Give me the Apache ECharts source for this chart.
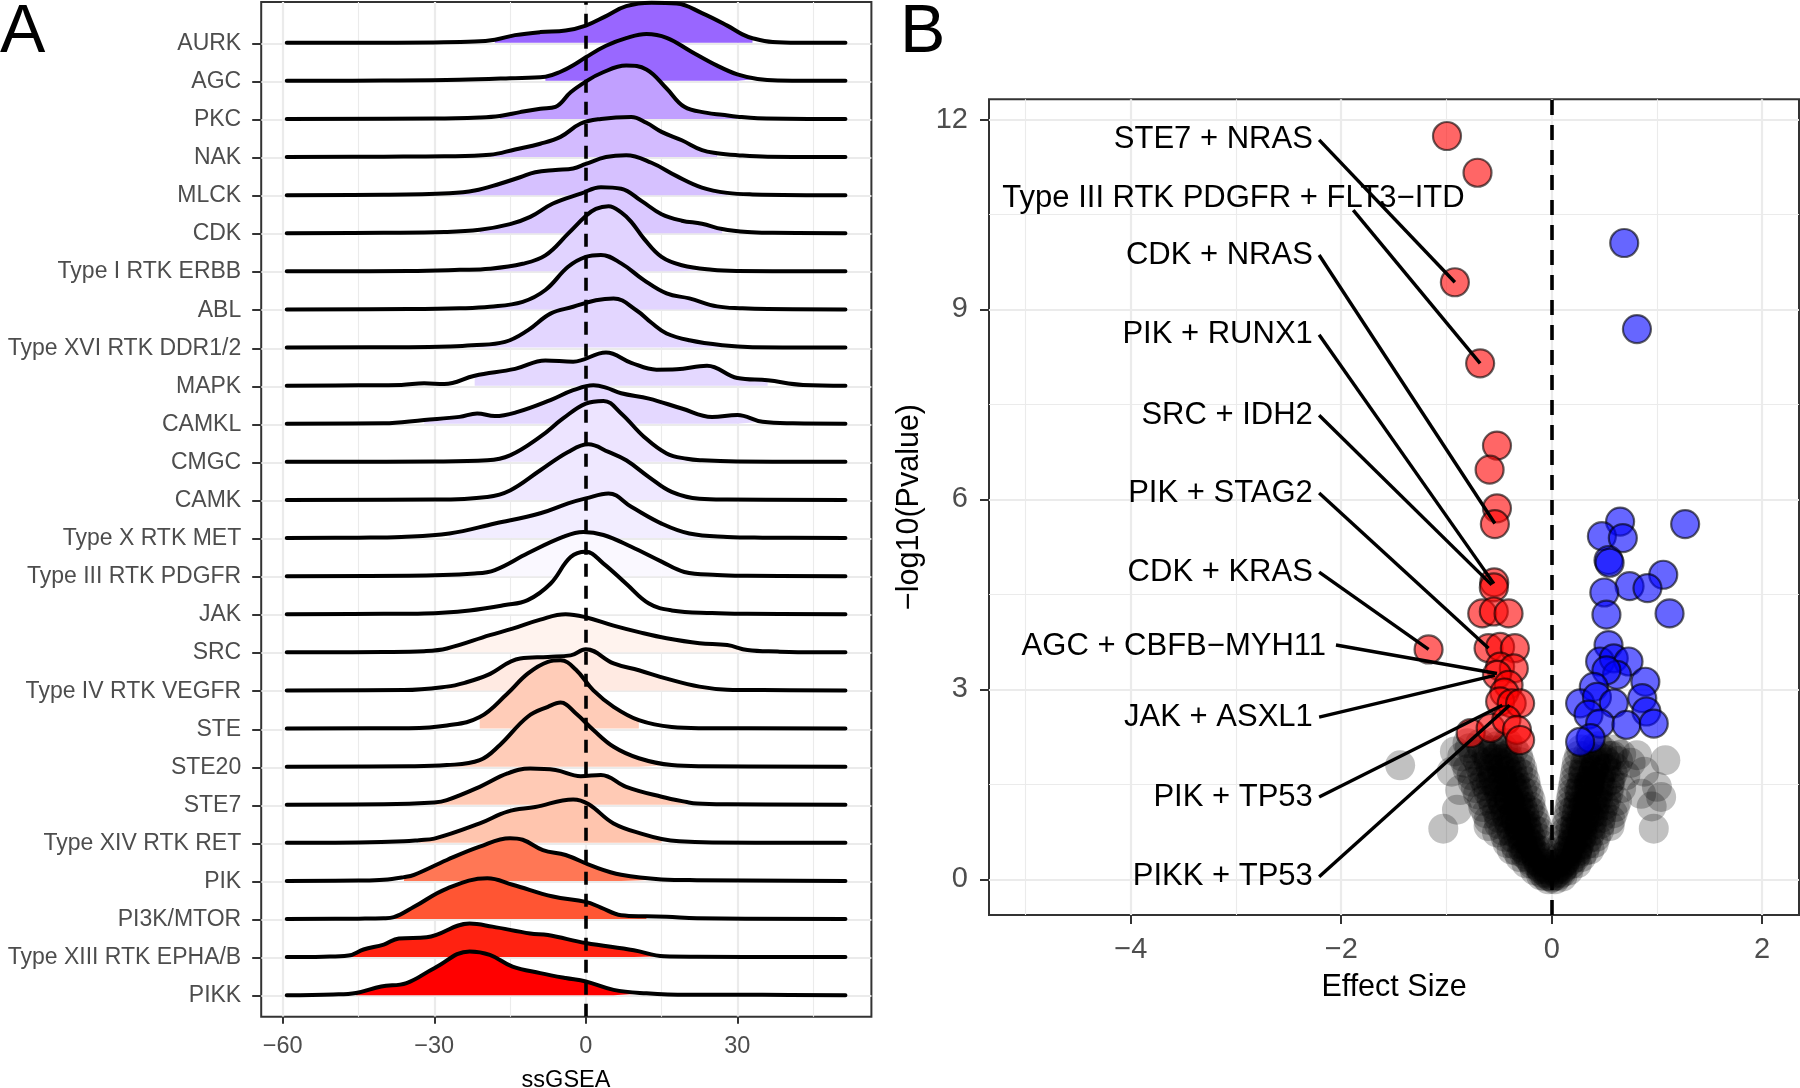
<!DOCTYPE html>
<html><head><meta charset="utf-8">
<script src="https://cdn.jsdelivr.net/npm/echarts@6/dist/echarts.min.js"></script>
<style>html,body{margin:0;padding:0;background:#fff}#c{width:1800px;height:1088px}</style>
</head><body><div id="c"></div>
<script>
// ---------------- Panel A data ----------------
const categories = ['AURK','AGC','PKC','NAK','MLCK','CDK','Type I RTK ERBB','ABL','Type XVI RTK DDR1/2','MAPK','CAMKL','CMGC','CAMK','Type X RTK MET','Type III RTK PDGFR','JAK','SRC','Type IV RTK VEGFR','STE','STE20','STE7','Type XIV RTK RET','PIK','PI3K/MTOR','Type XIII RTK EPHA/B','PIKK'];

// ridge curves: [ssGSEA, height in row units]
const ridgeAURK = [[-59.2,0],[-45,0],[-30,0.01],[-22,0.03],[-18,0.08],[-14,0.2],[-9,0.28],[-4,0.32],[0,0.45],[4,0.7],[8,0.96],[13,1.05],[18,1.03],[23,0.78],[28,0.45],[31,0.22],[33,0.12],[37,0.02],[42,0],[51.4,0]];
const ridgeAGC = [[-59.2,0],[-40,0.01],[-25,0.03],[-15,0.07],[-8,0.11],[-5,0.24],[-2,0.45],[0,0.62],[4,0.92],[8,1.12],[12,1.23],[16,1.13],[21,0.76],[26,0.4],[30,0.17],[34,0.05],[38,0.01],[51.4,0]];
const ridgePKC = [[-59.2,0],[-30,0.01],[-21,0.04],[-17,0.08],[-13,0.18],[-9,0.27],[-6,0.32],[-3,0.7],[0,0.98],[3,1.2],[8,1.4],[12,1.3],[16,0.8],[19.5,0.32],[24,0.16],[27,0.11],[30,0.06],[34,0.02],[51.4,0]];
const ridgeNAK = [[-59.2,0],[-40,0.01],[-28,0.02],[-19,0.06],[-14,0.2],[-9,0.35],[-5,0.53],[-1,0.88],[3,1.0],[9,1.05],[12,0.9],[15,0.66],[19,0.44],[23,0.18],[26,0.1],[30,0.05],[36,0.01],[51.4,0]];
const ridgeMLCK = [[-59.2,0],[-40,0.01],[-27,0.05],[-22,0.12],[-17,0.3],[-13,0.47],[-10,0.6],[-6,0.66],[-2.5,0.7],[0,0.82],[4,1.0],[8,1.05],[13,0.85],[18,0.5],[23,0.2],[28,0.06],[33,0.02],[51.4,0]];
const ridgeCDK = [[-59.2,0],[-40,0.01],[-28,0.03],[-21,0.09],[-15,0.24],[-11,0.43],[-6.5,0.78],[-1,1.04],[3,1.21],[7,1.17],[11,0.85],[15,0.5],[19,0.33],[23,0.25],[27,0.11],[32,0.03],[37,0.01],[51.4,0]];
const ridgeERBB = [[-59.2,0],[-35,0.01],[-25,0.04],[-19,0.07],[-12.5,0.2],[-8,0.42],[-3.5,0.99],[0,1.45],[2,1.64],[4.5,1.71],[7,1.55],[9,1.3],[11.5,0.86],[15,0.38],[19,0.16],[25,0.04],[30,0.01],[51.4,0]];
const ridgeABL = [[-59.2,0],[-35,0.01],[-25,0.03],[-19,0.07],[-12.5,0.2],[-8,0.51],[-3.5,1.12],[0,1.38],[3,1.43],[7,1.21],[11.5,0.77],[16,0.42],[20.5,0.29],[26,0.08],[31,0.03],[36,0.01],[51.4,0]];
const ridgeDDR = [[-59.2,0],[-35,0.01],[-27,0.03],[-22.5,0.06],[-16,0.15],[-11.5,0.45],[-7,0.89],[-2.5,1.07],[2,1.24],[5.5,1.29],[10,0.98],[13,0.65],[16,0.37],[20.5,0.19],[27,0.06],[33,0.01],[51.4,0]];
const ridgeMAPK = [[-59.2,0],[-45,0.01],[-36.5,0.02],[-32,0.06],[-28,0.04],[-22,0.26],[-14,0.44],[-8,0.66],[-2.5,0.63],[4,0.87],[9,0.6],[14,0.42],[18,0.43],[24,0.52],[30,0.2],[36,0.14],[43,0.02],[51.4,0]];
const ridgeCAMKL = [[-59.2,0],[-40,0.01],[-32,0.1],[-25,0.18],[-21.5,0.27],[-18,0.2],[-13.5,0.31],[-7,0.62],[-2.5,0.88],[1.5,1.01],[4,0.95],[7,0.8],[12.5,0.66],[19,0.4],[25,0.18],[30,0.23],[35,0.05],[41,0.01],[51.4,0]];
const ridgeCMGC = [[-59.2,0],[-30,0.01],[-19.5,0.04],[-15,0.17],[-9,0.66],[-4.5,1.14],[0,1.53],[3.5,1.6],[7,1.27],[11.5,0.66],[16,0.22],[20,0.08],[23,0.04],[30,0.01],[51.4,0]];
const ridgeCAMK = [[-59.2,0],[-30,0.01],[-19.5,0.08],[-15,0.25],[-9,0.78],[-3.5,1.26],[0.5,1.46],[4.5,1.26],[8,1.04],[12.5,0.6],[17,0.21],[22.5,0.03],[28,0.01],[51.4,0]];
const ridgeMET = [[-59.2,0],[-45,0.01],[-36.5,0.03],[-27,0.12],[-18,0.38],[-9,0.65],[-3.5,0.91],[0,1.04],[4.5,1.17],[9,0.82],[15,0.38],[20.5,0.12],[28,0.03],[35,0.01],[51.4,0]];
const ridgePDGFR = [[-59.2,0],[-35,0.01],[-22,0.07],[-18,0.16],[-11.5,0.6],[-4.5,1.03],[-0.5,1.16],[3.5,1.08],[9,0.77],[15,0.38],[19.5,0.11],[26,0.03],[32,0.01],[51.4,0]];
const ridgeJAK = [[-59.2,0],[-40,0.01],[-32,0.02],[-23,0.1],[-16,0.24],[-11.5,0.37],[-7,0.8],[-3,1.5],[0,1.64],[3.5,1.33],[8,0.8],[12.5,0.28],[17,0.1],[25,0.03],[32,0.01],[51.4,0]];
const ridgeSRC = [[-59.2,0],[-40,0.01],[-32,0.03],[-27.5,0.1],[-19,0.45],[-14.5,0.62],[-9,0.86],[-4,1.0],[0,0.92],[5.5,0.7],[10.5,0.53],[16,0.37],[22.5,0.24],[28,0.19],[32,0.06],[38,0.02],[45,0],[51.4,0]];
const ridgeVEGFR = [[-59.2,0],[-36,0.01],[-27.5,0.1],[-24,0.2],[-19.5,0.4],[-13,0.84],[-7.5,0.88],[-3,0.92],[0,1.08],[5.5,0.71],[10.5,0.53],[16,0.31],[22.5,0.1],[28,0.02],[35,0.01],[51.4,0]];
const ridgeSTE = [[-59.2,0],[-35,0.01],[-27.5,0.08],[-21,0.3],[-15.5,0.92],[-11.5,1.44],[-7.5,1.75],[-5,1.79],[-2,1.55],[1.5,1.0],[5.5,0.57],[10.5,0.22],[17,0.04],[23,0.01],[51.4,0]];
const ridgeSTE20 = [[-59.2,0],[-35,0.01],[-27.5,0.04],[-21,0.17],[-17,0.57],[-11.5,1.31],[-7.5,1.57],[-5,1.68],[-2,1.4],[1.5,0.96],[5.5,0.52],[10.5,0.22],[17,0.04],[23,0.01],[51.4,0]];
const ridgeSTE7 = [[-59.2,0],[-40,0.01],[-30,0.06],[-27.5,0.12],[-21,0.47],[-15.5,0.82],[-11,0.95],[-6,0.91],[-1,0.75],[3,0.78],[8,0.47],[15,0.21],[20,0.07],[22,0.03],[28,0.01],[51.4,0]];
const ridgeRET = [[-59.2,0],[-45,0.01],[-36,0.04],[-33,0.07],[-30,0.11],[-21,0.51],[-15.5,0.82],[-10,0.94],[-2.5,1.14],[0.5,1.02],[5.5,0.51],[12,0.2],[15,0.1],[18.5,0.04],[25,0.01],[51.4,0]];
const ridgePIK = [[-59.2,0],[-45,0.01],[-40,0.03],[-36,0.1],[-34,0.16],[-27.5,0.55],[-21,0.9],[-15,1.12],[-12.5,1.08],[-8.5,0.81],[-4,0.68],[1.5,0.38],[7,0.16],[15,0.04],[22,0.02],[51.4,0]];
const ridgePI3K = [[-59.2,0],[-45,0.01],[-40,0.02],[-38,0.05],[-34,0.32],[-27.5,0.8],[-19.5,1.07],[-14.5,0.9],[-6.5,0.59],[0,0.45],[3,0.3],[7,0.1],[12,0.07],[16,0.06],[22,0.02],[51.4,0]];
const ridgeEPHA = [[-59.2,0],[-52,0.01],[-47,0.04],[-44,0.2],[-40,0.33],[-37,0.49],[-31.5,0.52],[-23,0.88],[-18.5,0.8],[-11,0.62],[-7.5,0.58],[0,0.37],[9.5,0.18],[15.5,0.02],[22,0.01],[51.4,0]];
const ridgePIKK = [[-59.2,0],[-50,0.02],[-45.5,0.06],[-40.5,0.23],[-35.5,0.32],[-30,0.71],[-23,1.15],[-19,1.06],[-14.5,0.75],[-9,0.58],[-4,0.45],[0,0.36],[5.5,0.14],[12,0.05],[20,0.01],[35,0.01],[51.4,0]];

const ridges = [ridgeAURK,ridgeAGC,ridgePKC,ridgeNAK,ridgeMLCK,ridgeCDK,ridgeERBB,ridgeABL,ridgeDDR,ridgeMAPK,ridgeCAMKL,ridgeCMGC,ridgeCAMK,ridgeMET,ridgePDGFR,ridgeJAK,ridgeSRC,ridgeVEGFR,ridgeSTE,ridgeSTE20,ridgeSTE7,ridgeRET,ridgePIK,ridgePI3K,ridgeEPHA,ridgePIKK];
const fillRanges = [[-18,33],[-8,34],[-17,30],[-19,26],[-27,28],[-21,27],[-19,25],[-19,31],[-22.5,27],[-22,36],[-32,35],[-19.5,23],[-19.5,22.5],[-27,28],[-22,26],[-32,25],[-27.5,32],[-27.5,28],[-21,10.5],[-27.5,17],[-30,20],[-33,15],[-36,15],[-38,12],[-47,15.5],[-45.5,12]];
const fillColors = ['#9966FF','#9968FF','#C1A0FF','#D3BBFF','#D6C1FF','#DAC8FF','#E1D3FF','#E2D5FF','#E3D6FF','#E4D8FF','#E4D8FF','#EDE4FF','#EFE8FF','#F2EDFF','#FAF8FF','#FFFFFF','#FFF3EE','#FFEAE2','#FFCCB8','#FFCCB8','#FFCAB5','#FFC5AE','#FF7755','#FF5533','#FF2211','#FF0000'];
const xTicksA = [-60,-30,0,30];
const xMinorA = [-45,-15,15,45];

// ---------------- Panel B data ----------------
const grayPoints = [
[-0.02,0.05],[-0.06,0.05],[-0.1,0.06],[0.0,0.03],
[-0.04,0.15],[-0.1,0.16],[-0.16,0.14],
[-0.06,0.25],[-0.12,0.26],[-0.18,0.24],[-0.24,0.25],
[-0.08,0.35],[-0.15,0.36],[-0.22,0.34],[-0.3,0.35],
[-0.1,0.45],[-0.18,0.46],[-0.25,0.44],[-0.33,0.45],[-0.38,0.47],
[-0.1,0.55],[-0.2,0.56],[-0.27,0.54],[-0.35,0.55],[-0.42,0.57],
[-0.12,0.65],[-0.2,0.66],[-0.28,0.64],[-0.36,0.65],[-0.44,0.67],
[-0.12,0.75],[-0.22,0.76],[-0.3,0.74],[-0.38,0.75],[-0.46,0.77],[-0.52,0.74],
[-0.14,0.85],[-0.24,0.86],[-0.32,0.84],[-0.4,0.85],[-0.5,0.87],[-0.6,0.84],
[-0.16,0.95],[-0.25,0.96],[-0.34,0.94],[-0.42,0.95],[-0.5,0.97],[-0.6,0.94],
[-0.18,1.05],[-0.26,1.06],[-0.35,1.04],[-0.44,1.05],[-0.52,1.07],[-0.62,1.04],
[-0.2,1.15],[-0.28,1.16],[-0.37,1.14],[-0.46,1.15],[-0.55,1.17],[-0.65,1.14],
[-0.2,1.25],[-0.3,1.26],[-0.4,1.24],[-0.48,1.25],[-0.57,1.27],[-0.66,1.24],
[-0.22,1.35],[-0.32,1.36],[-0.42,1.34],[-0.5,1.35],[-0.6,1.37],[-0.7,1.34],
[-0.24,1.45],[-0.34,1.46],[-0.44,1.44],[-0.52,1.45],[-0.62,1.47],[-0.72,1.44],
[-0.25,1.55],[-0.35,1.56],[-0.46,1.54],[-0.55,1.55],[-0.64,1.57],[-0.75,1.54],
[-0.27,1.65],[-0.37,1.66],[-0.47,1.64],[-0.56,1.65],[-0.66,1.67],[-0.76,1.64],
[-0.28,1.75],[-0.38,1.76],[-0.48,1.74],[-0.58,1.75],[-0.68,1.77],[-0.8,1.74],
[-0.3,1.85],[-0.4,1.86],[-0.5,1.84],[-0.6,1.85],[-0.7,1.87],[-0.82,1.84],
[-0.32,1.95],[-0.42,1.96],[-0.52,1.94],[-0.62,1.95],[-0.74,1.97],[-0.85,1.94],
[-0.36,2.05],[-0.46,2.06],[-0.56,2.04],[-0.66,2.05],[-0.78,2.07],
[-0.42,2.15],[-0.55,2.16],[-0.68,2.14],[-0.8,2.15],
[-1.44,1.8],[-1.03,0.8],[-0.92,2.02],[-0.87,1.41],[-0.95,1.7],[-0.9,1.1],
[0.02,0.05],[0.06,0.06],[0.1,0.04],
[0.04,0.15],[0.1,0.16],[0.16,0.14],
[0.06,0.25],[0.12,0.26],[0.18,0.24],[0.24,0.25],
[0.08,0.35],[0.15,0.36],[0.22,0.34],[0.28,0.35],
[0.1,0.45],[0.17,0.46],[0.24,0.44],[0.31,0.45],[0.36,0.47],
[0.1,0.55],[0.18,0.56],[0.26,0.54],[0.33,0.55],[0.4,0.57],
[0.12,0.65],[0.2,0.66],[0.28,0.64],[0.35,0.65],[0.42,0.67],
[0.13,0.75],[0.21,0.76],[0.29,0.74],[0.37,0.75],[0.45,0.77],
[0.14,0.85],[0.22,0.86],[0.3,0.84],[0.38,0.85],[0.46,0.87],[0.55,0.84],
[0.15,0.95],[0.23,0.96],[0.31,0.94],[0.39,0.95],[0.47,0.97],[0.56,0.94],
[0.16,1.05],[0.24,1.06],[0.32,1.04],[0.4,1.05],[0.48,1.07],[0.58,1.04],
[0.17,1.15],[0.25,1.16],[0.33,1.14],[0.41,1.15],[0.5,1.17],[0.6,1.14],
[0.18,1.25],[0.26,1.26],[0.34,1.24],[0.42,1.25],[0.52,1.27],[0.62,1.24],
[0.19,1.35],[0.27,1.36],[0.35,1.34],[0.44,1.35],[0.54,1.37],
[0.2,1.45],[0.28,1.46],[0.36,1.44],[0.45,1.45],[0.55,1.47],[0.66,1.44],
[0.21,1.55],[0.29,1.56],[0.37,1.54],[0.46,1.55],[0.56,1.57],
[0.22,1.65],[0.3,1.66],[0.38,1.64],[0.47,1.65],[0.58,1.67],[0.7,1.64],
[0.23,1.75],[0.31,1.76],[0.4,1.74],[0.5,1.75],[0.6,1.77],
[0.24,1.85],[0.32,1.86],[0.42,1.84],[0.52,1.85],[0.63,1.87],[0.75,1.84],
[0.26,1.95],[0.34,1.96],[0.44,1.94],[0.55,1.95],[0.66,1.97],
[0.28,2.05],[0.38,2.06],[0.48,2.04],[0.6,2.05],
[1.08,1.88],[0.81,1.96],[1.0,1.46],[0.95,1.15],[0.97,0.8],[1.04,1.3],[0.88,1.7],[0.85,1.35]
];
const grayCore = [
[-0.05,0.1],[-0.12,0.2],[-0.2,0.3],[-0.15,0.4],[-0.28,0.5],[-0.22,0.6],[-0.32,0.7],[-0.18,0.8],[-0.28,0.9],[-0.38,1.0],[-0.22,1.1],[-0.32,1.2],[-0.42,1.3],[-0.28,1.4],[-0.38,1.5],[-0.48,1.6],[-0.32,1.7],[-0.44,1.8],[-0.54,1.9],[-0.36,1.0],[-0.46,1.2],
[-0.08,0.2],[-0.16,0.5],[-0.24,0.8],[-0.3,1.1],[-0.36,1.4],[-0.42,1.7],[-0.26,0.4],[-0.34,0.9],[-0.4,1.25],[-0.5,1.45],[-0.55,1.75],[-0.58,1.55],[-0.6,1.95],
[-0.03,0.0],[-0.09,0.1],[-0.14,0.3],[-0.2,0.45],[-0.25,0.65],[-0.3,0.85],[-0.34,1.15],[-0.4,1.55],[-0.46,1.9],[-0.52,2.1],
[0.05,0.1],[0.12,0.2],[0.18,0.3],[0.14,0.4],[0.25,0.5],[0.2,0.6],[0.3,0.7],[0.18,0.8],[0.27,0.9],[0.36,1.0],[0.21,1.1],[0.3,1.2],[0.4,1.3],[0.26,1.4],[0.35,1.5],[0.45,1.6],[0.3,1.7],[0.42,1.8],[0.5,1.9],[0.34,1.05],[0.44,1.25],
[0.08,0.2],[0.16,0.5],[0.23,0.8],[0.29,1.1],[0.33,1.4],[0.4,1.7],[0.24,0.4],[0.32,0.9],[0.38,1.25],[0.48,1.45],[0.52,1.75],[0.55,1.55],[0.58,1.95],
[0.03,0.0],[0.09,0.1],[0.13,0.3],[0.19,0.45],[0.24,0.65],[0.28,0.85],[0.31,1.15],[0.36,1.55],[0.4,1.9],[0.44,2.1]
];
const redPoints = [[-0.995,11.74],[-0.705,11.16],[-0.92,9.43],[-0.68,8.15],[-0.52,6.85],[-0.59,6.47],[-0.52,5.86],[-0.54,5.61],[-0.546,4.69],[-0.55,4.61],[-0.66,4.2],[-0.55,4.23],[-0.41,4.2],[-1.17,3.63],[-0.6,3.65],[-0.49,3.67],[-0.35,3.65],[-0.49,3.36],[-0.36,3.33],[-0.52,3.23],[-0.41,3.07],[-0.45,2.95],[-0.49,2.81],[-0.38,2.78],[-0.3,2.78],[-0.77,2.31],[-0.58,2.39],[-0.43,2.52],[-0.33,2.36],[-0.3,2.2]];
const bluePoints = [[0.689,10.05],[0.81,8.69],[0.65,5.65],[0.477,5.42],[0.676,5.39],[0.54,5.04],[0.55,5.0],[1.268,5.61],[1.06,4.81],[0.74,4.63],[0.91,4.6],[0.5,4.53],[0.52,4.18],[1.12,4.2],[0.54,3.7],[0.46,3.44],[0.59,3.49],[0.73,3.44],[0.62,3.23],[0.52,3.3],[0.89,3.12],[0.40,3.04],[0.27,2.78],[0.43,2.88],[0.59,2.78],[0.86,2.86],[0.9,2.65],[0.35,2.6],[0.46,2.46],[0.71,2.44],[0.97,2.46],[0.37,2.23],[0.27,2.17]];
const labelTexts = ['STE7 + NRAS','Type III RTK PDGFR + FLT3\u2212ITD','CDK + NRAS','PIK + RUNX1','SRC + IDH2','PIK + STAG2','CDK + KRAS','AGC + CBFB\u2212MYH11','JAK + ASXL1','PIK + TP53','PIKK + TP53'];
const labelX = [-2.27,-3.024,-2.27,-2.27,-2.27,-2.27,-2.27,-2.145,-2.27,-2.27,-2.27];
const labelY = [11.68,10.755,9.86,8.6,7.33,6.1,4.85,3.674,2.56,1.3,0.04];
const labelAlign = ['right','center','right','right','right','right','right','right','right','right','right'];
const segStartX = [-2.21,-1.886,-2.21,-2.21,-2.21,-2.21,-2.21,-2.05,-2.21,-2.21,-2.21];
const segStartY = [11.68,10.57,9.86,8.6,7.33,6.1,4.85,3.70,2.56,1.3,0.04];
const targetX = [-0.92,-0.68,-0.54,-0.55,-0.57,-0.6,-1.17,-0.52,-0.54,-0.47,-0.40];
const targetY = [9.43,8.15,5.62,4.67,4.65,3.65,3.63,3.25,3.22,2.75,2.75];
const xTicksB = [-4,-2,0,2];
const xMinorB = [-5,-3,-1,1];
const yTicksB = [0,3,6,9,12];
const yMinorB = [1.5,4.5,7.5,10.5];

// ---------------- chart ----------------
const FONT = '"Liberation Sans", Arial, sans-serif';
const minus = v => (v < 0 ? '\u2212' + (-v) : String(v));
const nRows = categories.length;

const seriesA = [];
ridges.forEach((r, i) => {
  const base = nRows - 1 - i;
  const lo = fillRanges[i][0], hi = fillRanges[i][1];
  seriesA.push({
    type: 'line', xAxisIndex: 0, yAxisIndex: 0, silent: true, smooth: 0.4, symbol: 'none',
    data: r.filter(p => p[0] >= lo && p[0] <= hi).map(p => [p[0], base + p[1]]),
    lineStyle: { width: 0, opacity: 0 },
    areaStyle: { color: fillColors[i], opacity: 1, origin: base }
  });
  seriesA.push({
    type: 'line', xAxisIndex: 0, yAxisIndex: 0, silent: true, smooth: 0.4, symbol: 'none',
    data: r.map(p => [p[0], base + p[1]]),
    lineStyle: { color: '#000', width: 4, cap: 'round', join: 'round' }
  });
});
seriesA.push({
  type: 'scatter', xAxisIndex: 0, yAxisIndex: 0, data: [], z: 5, silent: true,
  markLine: { silent: true, symbol: 'none', label: { show: false },
    lineStyle: { color: '#000', width: 3.6, type: [13, 9] }, data: [{ xAxis: 0 }] }
});

const seriesB = [
  { type: 'scatter', xAxisIndex: 3, yAxisIndex: 2, data: [], z: 1, silent: true,
    markLine: { silent: true, symbol: 'none', label: { show: false },
      lineStyle: { color: '#000', width: 3.6, type: [15, 10] }, data: [{ xAxis: 0 }] } },
  { type: 'scatter', xAxisIndex: 3, yAxisIndex: 2, data: grayPoints.concat(grayCore), symbolSize: 30, z: 2, silent: true,
    itemStyle: { color: 'rgba(0,0,0,0.3)' } },
  { type: 'scatter', xAxisIndex: 3, yAxisIndex: 2, data: redPoints, symbolSize: 28, z: 3, silent: true,
    itemStyle: { color: 'rgba(255,0,0,0.75)', borderColor: 'rgba(0,0,0,0.75)', borderWidth: 2.2 } },
  { type: 'scatter', xAxisIndex: 3, yAxisIndex: 2, data: bluePoints, symbolSize: 28, z: 3, silent: true,
    itemStyle: { color: 'rgba(0,0,255,0.75)', borderColor: 'rgba(0,0,0,0.75)', borderWidth: 2.2 } },
  { type: 'custom', xAxisIndex: 3, yAxisIndex: 2, z: 6, silent: true,
    data: labelTexts.map((t, i) => [labelX[i], labelY[i]]),
    renderItem: (params, api) => {
      const i = params.dataIndex;
      const p0 = api.coord([segStartX[i], segStartY[i]]);
      const p1 = api.coord([targetX[i], targetY[i]]);
      const pt = api.coord([labelX[i], labelY[i]]);
      return { type: 'group', children: [
        { type: 'line', shape: { x1: p0[0], y1: p0[1], x2: p1[0], y2: p1[1] },
          style: { stroke: '#000', lineWidth: 3.4 } },
        { type: 'text', x: pt[0], y: pt[1],
          style: { text: labelTexts[i], fill: '#000', font: '31px ' + FONT, align: labelAlign[i], verticalAlign: 'middle' } }
      ] };
    } }
];

const gridLine = (w) => ({ show: true, lineStyle: { color: '#EBEBEB', width: w } });

const option = {
  animation: false,
  backgroundColor: '#fff',
  textStyle: { fontFamily: FONT },
  grid: [
    { left: 261.2, top: 2, width: 610.2, height: 1014.7, show: true, borderColor: '#333', borderWidth: 2, backgroundColor: 'transparent' },
    { left: 261.2, top: 43.5, width: 610.2, height: 952.5, show: false },
    { left: 989, top: 99.3, width: 810, height: 815.7, show: true, borderColor: '#333', borderWidth: 2, backgroundColor: 'transparent' }
  ],
  xAxis: [
    { gridIndex: 0, type: 'value', min: -64.26, max: 56.54, position: 'bottom', axisLine: { show: false, onZero: false },
      axisTick: { show: true, customValues: xTicksA, length: 7, lineStyle: { color: '#333', width: 2 } },
      axisLabel: { customValues: xTicksA, formatter: minus, color: '#4D4D4D', fontSize: 23.5, margin: 18, fontFamily: FONT },
      splitLine: gridLine(2.2) },
    { gridIndex: 0, type: 'value', min: -64.26, max: 56.54, position: 'bottom', axisLine: { show: false, onZero: false },
      axisTick: { show: false, customValues: xMinorA }, axisLabel: { show: false, customValues: xMinorA },
      splitLine: gridLine(1.1) },
    { gridIndex: 1, type: 'value', min: -64.26, max: 56.54, show: false },
    { gridIndex: 2, type: 'value', min: -5.347, max: 2.35, position: 'bottom', axisLine: { show: false, onZero: false },
      axisTick: { show: true, customValues: xTicksB, length: 9, lineStyle: { color: '#333', width: 2 } },
      axisLabel: { customValues: xTicksB, formatter: minus, color: '#4D4D4D', fontSize: 29, margin: 20, fontFamily: FONT },
      splitLine: gridLine(2.2) },
    { gridIndex: 2, type: 'value', min: -5.347, max: 2.35, position: 'bottom', axisLine: { show: false, onZero: false },
      axisTick: { show: false, customValues: xMinorB }, axisLabel: { show: false, customValues: xMinorB },
      splitLine: gridLine(1.1) }
  ],
  yAxis: [
    { gridIndex: 0, type: 'value', min: -0.564, max: 26.07, show: false, axisLine: { onZero: false } },
    { gridIndex: 1, type: 'category', data: categories, inverse: true, boundaryGap: false,
      axisLine: { show: false, onZero: false },
      axisTick: { show: true, length: 9, alignWithLabel: true, lineStyle: { color: '#333', width: 2 } },
      axisLabel: { interval: 0, color: '#4D4D4D', fontSize: 23, margin: 20, fontFamily: FONT },
      splitLine: { show: true, interval: 0, lineStyle: { color: '#EBEBEB', width: 2.2 } } },
    { gridIndex: 2, type: 'value', min: -0.564, max: 12.32, position: 'left', axisLine: { show: false, onZero: false },
      axisTick: { show: true, customValues: yTicksB, length: 9, lineStyle: { color: '#333', width: 2 } },
      axisLabel: { customValues: yTicksB, formatter: minus, color: '#4D4D4D', fontSize: 29, margin: 21, fontFamily: FONT },
      splitLine: gridLine(2.2) },
    { gridIndex: 2, type: 'value', min: -0.564, max: 12.32, position: 'left', axisLine: { show: false, onZero: false },
      axisTick: { show: false, customValues: yMinorB }, axisLabel: { show: false, customValues: yMinorB },
      splitLine: gridLine(1.1) }
  ],
  graphic: [
    { type: 'text', x: 0, y: 33, style: { text: 'A', font: '68px ' + FONT, fill: '#000', align: 'left', verticalAlign: 'middle' } },
    { type: 'text', x: 900, y: 33, style: { text: 'B', font: '68px ' + FONT, fill: '#000', align: 'left', verticalAlign: 'middle' } },
    { type: 'text', x: 566, y: 1081, style: { text: 'ssGSEA', font: '23.5px ' + FONT, fill: '#000', align: 'center', verticalAlign: 'middle' } },
    { type: 'text', x: 1394, y: 987.5, style: { text: 'Effect Size', font: '30.5px ' + FONT, fill: '#000', align: 'center', verticalAlign: 'middle' } },
    { type: 'text', x: 910, y: 507, rotation: Math.PI / 2, style: { text: '\u2212log10(Pvalue)', font: '30.5px ' + FONT, fill: '#000', align: 'center', verticalAlign: 'middle' } }
  ],
  series: seriesA.concat(seriesB)
};

const chart = echarts.init(document.getElementById('c'), null, { renderer: 'canvas', width: 1800, height: 1088 });
chart.setOption(option);
</script>
</body></html>
